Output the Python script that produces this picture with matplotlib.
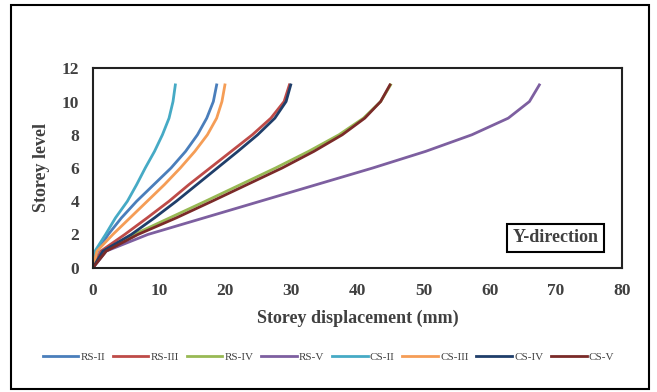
import numpy as np
import matplotlib
matplotlib.use("Agg")
import matplotlib.pyplot as plt
from matplotlib.patches import Rectangle

plt.rcParams['font.family'] = ['Liberation Serif', 'DejaVu Serif']

storey = np.arange(0, 12)

labels = ['RS-II', 'RS-III', 'RS-IV', 'RS-V', 'CS-II', 'CS-III', 'CS-IV', 'CS-V']
colors = ['#4A7EBB', '#BE4B48', '#98B954', '#7D5FA0', '#46AAC5', '#F59D56', '#1F3E6A', '#7A2A28']

# storey displacement (mm) at storey 0..11
rs_2 = [0, 0.7, 2.3, 4.3, 6.6, 9.2, 11.8, 14.0, 15.8, 17.2, 18.2, 18.7]
rs_3 = [0, 1.2, 4.8, 8.2, 11.5, 14.5, 17.7, 20.9, 24.1, 26.9, 28.9, 29.7]
rs_4 = [0, 1.6, 6.2, 11.6, 17.0, 22.3, 27.6, 32.6, 37.2, 40.9, 43.5, 45.0]
rs_5 = [0, 2.0, 8.3, 16.8, 25.3, 33.8, 42.3, 50.3, 57.3, 62.8, 66.0, 67.5]
cs_2 = [0, 0.3, 1.9, 3.4, 5.2, 6.6, 7.9, 9.3, 10.5, 11.5, 12.1, 12.45]
cs_3 = [0, 0.6, 3.0, 5.6, 8.2, 10.8, 13.2, 15.4, 17.3, 18.7, 19.5, 19.95]
cs_4 = [0, 1.5, 5.8, 9.3, 12.6, 15.7, 18.8, 21.9, 24.9, 27.5, 29.2, 29.9]
cs_5 = [0, 2.0, 6.8, 12.6, 18.0, 23.3, 28.6, 33.4, 37.7, 41.1, 43.5, 44.9]

series = [rs_2, rs_3, rs_4, rs_5, cs_2, cs_3, cs_4, cs_5]

fig = plt.figure(figsize=(6.57, 3.92), dpi=100)
ax = fig.add_axes([93 / 657, 1 - 267.7 / 392, (622 - 93) / 657, (267.7 - 68.3) / 392])

for disp, lab, col in zip(series, labels, colors):
    ax.plot(disp, storey, color=col, lw=2, label=lab, solid_joinstyle='round')

ax.set_xlim(0, 80)
ax.set_ylim(0, 12)
ax.set_xticks(np.arange(0, 81, 10))
ax.set_yticks(np.arange(0, 13, 2))
ax.tick_params(length=0, labelsize=12.5, labelcolor='#404040')
ax.tick_params(axis='x', pad=11)
ax.tick_params(axis='y', pad=10)
for t in ax.get_xticklabels() + ax.get_yticklabels():
    t.set_fontweight('bold')
for s in ax.spines.values():
    s.set_linewidth(1.5)
    s.set_color('#222222')

ax.set_xlabel('Storey displacement (mm)', fontsize=13, fontweight='bold', color='#404040', labelpad=8)
ax.set_ylabel('Storey level', fontsize=13, fontweight='bold', color='#404040', labelpad=8)

ax.text(0.955, 0.15, 'Y-direction', transform=ax.transAxes, ha='right', va='center',
        fontsize=13, fontweight='bold', color='#404040',
        bbox=dict(boxstyle='square,pad=0.3', fc='white', ec='black', lw=1.5))

fig.legend(loc='center', bbox_to_anchor=(0.5, 1 - 357 / 392), ncol=8, frameon=False,
           fontsize=8, handlelength=3.2, handletextpad=0.2, columnspacing=0.7,
           labelcolor='#404040')

fig.patches.append(Rectangle((11 / 657, 3 / 392), 638 / 657, 384 / 392, transform=fig.transFigure,
                             fill=False, ec='black', lw=1.5))

fig.savefig('out.png', dpi=100)
